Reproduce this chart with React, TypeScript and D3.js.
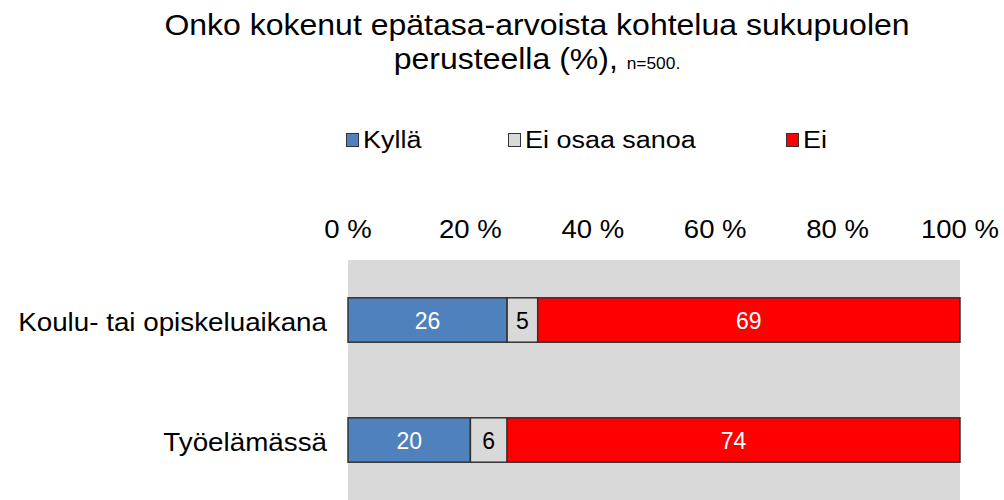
import * as d3 from 'd3'

const categories = ['Koulu- tai opiskeluaikana', 'Työelämässä']
const seriesNames = ['Kyllä', 'Ei osaa sanoa', 'Ei']
const kylla = [26, 20]
const eiOsaa = [5, 6]
const ei = [69, 74]
const ticks = [0, 20, 40, 60, 80, 100]

const colors = ['#4f81bd', '#d9d9d9', '#ff0000']
const labelColors = ['#ffffff', '#000000', '#ffffff']
const font = '"Liberation Sans", Arial, sans-serif'

// teksti hieman leveämmäksi kuin Liberation Sans
const Txt = ({ x, y, sx = 1.08, anchor = 'start', size, fill = '#000', children }: any) => (
  <text transform={`translate(${x},${y}) scale(${sx},1)`} textAnchor={anchor} fontSize={size} fill={fill}>
    {children}
  </text>
)

const App = () => {
  const width = 1004
  const height = 500
  const plot = { left: 348, right: 960, top: 260, bottom: 500 }

  const x = d3.scaleLinear().domain([0, 100]).range([plot.left, plot.right])
  const y = d3.scaleBand().domain(categories).range([plot.top, plot.bottom]).paddingInner(0.63).paddingOuter(0.315)

  const rows = categories.map((c, i) => ({ cat: c, values: [kylla[i], eiOsaa[i], ei[i]] }))
  const stacked = rows.map(r => {
    let acc = 0
    return r.values.map((v, k) => {
      const start = acc
      acc += v
      return { cat: r.cat, k, v, x0: start, x1: acc }
    })
  })

  const legendX = [346, 508, 786]

  return (
    <svg width={width} height={height} style={{ position: 'absolute', left: 0, top: 0, background: '#fff' }}
      fontFamily={font}>
      {/* otsikko */}
      <Txt x={537} y={35} anchor='middle' size={29.5} sx={1.085}>
        Onko kokenut epätasa-arvoista kohtelua sukupuolen
      </Txt>
      <Txt x={537} y={69} anchor='middle' size={29.5} sx={1.085}>
        perusteella (%), <tspan fontSize={16}>n=500.</tspan>
      </Txt>

      {/* selite */}
      {seriesNames.map((s, k) => (
        <g key={s} transform={`translate(${legendX[k]},140)`}>
          <rect x={0.5} y={-6.5} width={12} height={13} fill={colors[k]} stroke='#333' strokeWidth={1} />
          <Txt x={17} y={8} size={24.5} sx={1.1}>{s}</Txt>
        </g>
      ))}

      {/* taustaalue */}
      <rect x={plot.left} y={plot.top} width={plot.right - plot.left} height={plot.bottom - plot.top} fill='#d9d9d9' />

      {/* x-akselin tekstit */}
      {ticks.map(t => (
        <Txt key={t} x={x(t)} y={238} anchor='middle' size={25.5} sx={1.08}>{t} %</Txt>
      ))}

      {/* kategoriat */}
      {categories.map(c => (
        <Txt key={c} x={327} y={(y(c) ?? 0) + y.bandwidth() / 2 + 11} anchor='end' size={25.5} sx={1.09}>{c}</Txt>
      ))}

      {/* palkit */}
      {stacked.map(row => row.map(d => (
        <g key={d.cat + d.k}>
          <rect x={x(d.x0)} y={y(d.cat)} width={x(d.x1) - x(d.x0)} height={y.bandwidth()}
            fill={colors[d.k]} stroke='#333' strokeWidth={1.5} />
          <Txt x={(x(d.x0) + x(d.x1)) / 2} y={(y(d.cat) ?? 0) + y.bandwidth() / 2 + 9}
            anchor='middle' size={23} sx={1} fill={labelColors[d.k]}>{d.v}</Txt>
        </g>
      )))}
    </svg>
  )
}

export default App
